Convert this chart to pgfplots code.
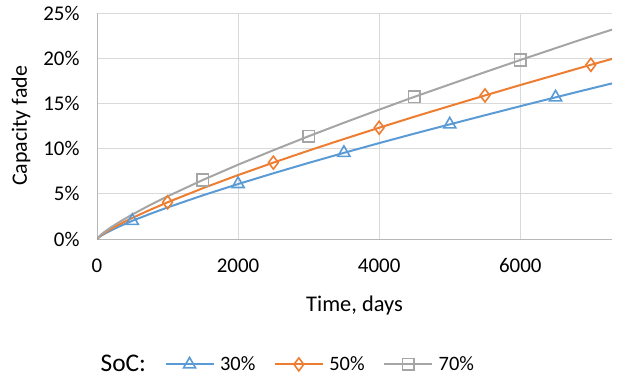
\documentclass[border=0pt]{standalone}
\usepackage{pgfplots}
\pgfplotsset{compat=1.18}
\usepackage{pgfplotstable}
\usepackage{fontspec}
\setmainfont{Carlito}
\definecolor{c30}{HTML}{5B9BD5}
\definecolor{c50}{HTML}{ED7D31}
\definecolor{c70}{HTML}{A5A5A5}
\definecolor{gridc}{HTML}{D9D9D9}
\pgfplotstableread{
t s30 s50 s70
0 0 0 0
50 0.32 0.37 0.43
100 0.55 0.64 0.75
200 0.96 1.12 1.30
300 1.33 1.55 1.80
500 2.01 2.33 2.71
750 2.77 3.22 3.75
1000 3.49 4.06 4.72
1500 4.83 5.62 6.53
2000 6.08 7.07 8.22
2500 7.27 8.45 9.82
3000 8.42 9.78 11.37
3500 9.53 11.06 12.86
4000 10.61 12.31 14.31
4500 11.66 13.53 15.73
5000 12.68 14.71 17.10
5500 13.69 15.88 18.46
6000 14.69 17.03 19.80
6500 15.67 18.15 21.11
7000 16.64 19.27 22.41
7300 17.21 19.92 23.16
}\data
\begin{document}
\begin{tikzpicture}
\begin{axis}[
  name=ax,
  scale only axis,
  width=515bp, height=226bp,
  xmin=0, xmax=7300, ymin=0, ymax=25,
  xtick={0,2000,4000,6000},
  ytick={0,5,10,15,20,25},
  yticklabel={\pgfmathprintnumber{\tick}\%},
  /pgf/number format/assume math mode=true,
  /pgf/number format/1000 sep={},
  grid=major,
  major grid style={gridc, line width=1bp},
  axis lines=left,
  axis line style={c70!80, line width=1bp, -},
  major tick length=0pt,
  tick label style={font=\fontsize{21}{24}\selectfont, black},
  xticklabel style={yshift=-16bp},
  yticklabel style={xshift=-14bp},
  xlabel={Time, days},
  ylabel={Capacity fade},
  xlabel style={font=\fontsize{22.5}{26}\selectfont, yshift=-16bp},
  ylabel style={font=\fontsize{22}{26}\selectfont, yshift=6bp},
  legend columns=4,
  legend style={at={(axis description cs:-0.004,-0.555)}, anchor=west, draw=none, fill=none,
    font=\fontsize{20.5}{24}\selectfont, inner sep=0pt,
    nodes={inner xsep=2.5bp, inner ysep=0bp},
    /tikz/every odd column/.append style={column sep=3bp},
    /tikz/every even column/.append style={column sep=16bp}},
  legend cell align=left,
  legend image code/.code={\draw[mark repeat=2,mark phase=2] plot coordinates {(0bp,0bp) (24bp,0bp) (48bp,0bp)};},
  legend image post style={mark indices={2}},
  every axis plot/.append style={line width=2bp, mark options={solid, fill=white, line width=1.6bp}},
]
\addlegendimage{empty legend}
\addlegendentry{\fontsize{25.5}{28}\selectfont SoC:}
\addplot[c30, mark=triangle, mark size=7bp, mark indices={6,10,13,16,19}] table[x=t,y=s30] {\data};
\addlegendentry{30\%}
\addplot[c50, mark=diamond, mark size=6.5bp, mark indices={8,11,14,17,20}] table[x=t,y=s50] {\data};
\addlegendentry{50\%}
\addplot[c70, mark=square, mark size=5.8bp, mark indices={9,12,15,18}] table[x=t,y=s70] {\data};
\addlegendentry{70\%}
\end{axis}
\pgfresetboundingbox
\path ([xshift=-97bp,yshift=-138bp]ax.south west) rectangle ([xshift=11bp,yshift=13bp]ax.north east);
\end{tikzpicture}
\end{document}
